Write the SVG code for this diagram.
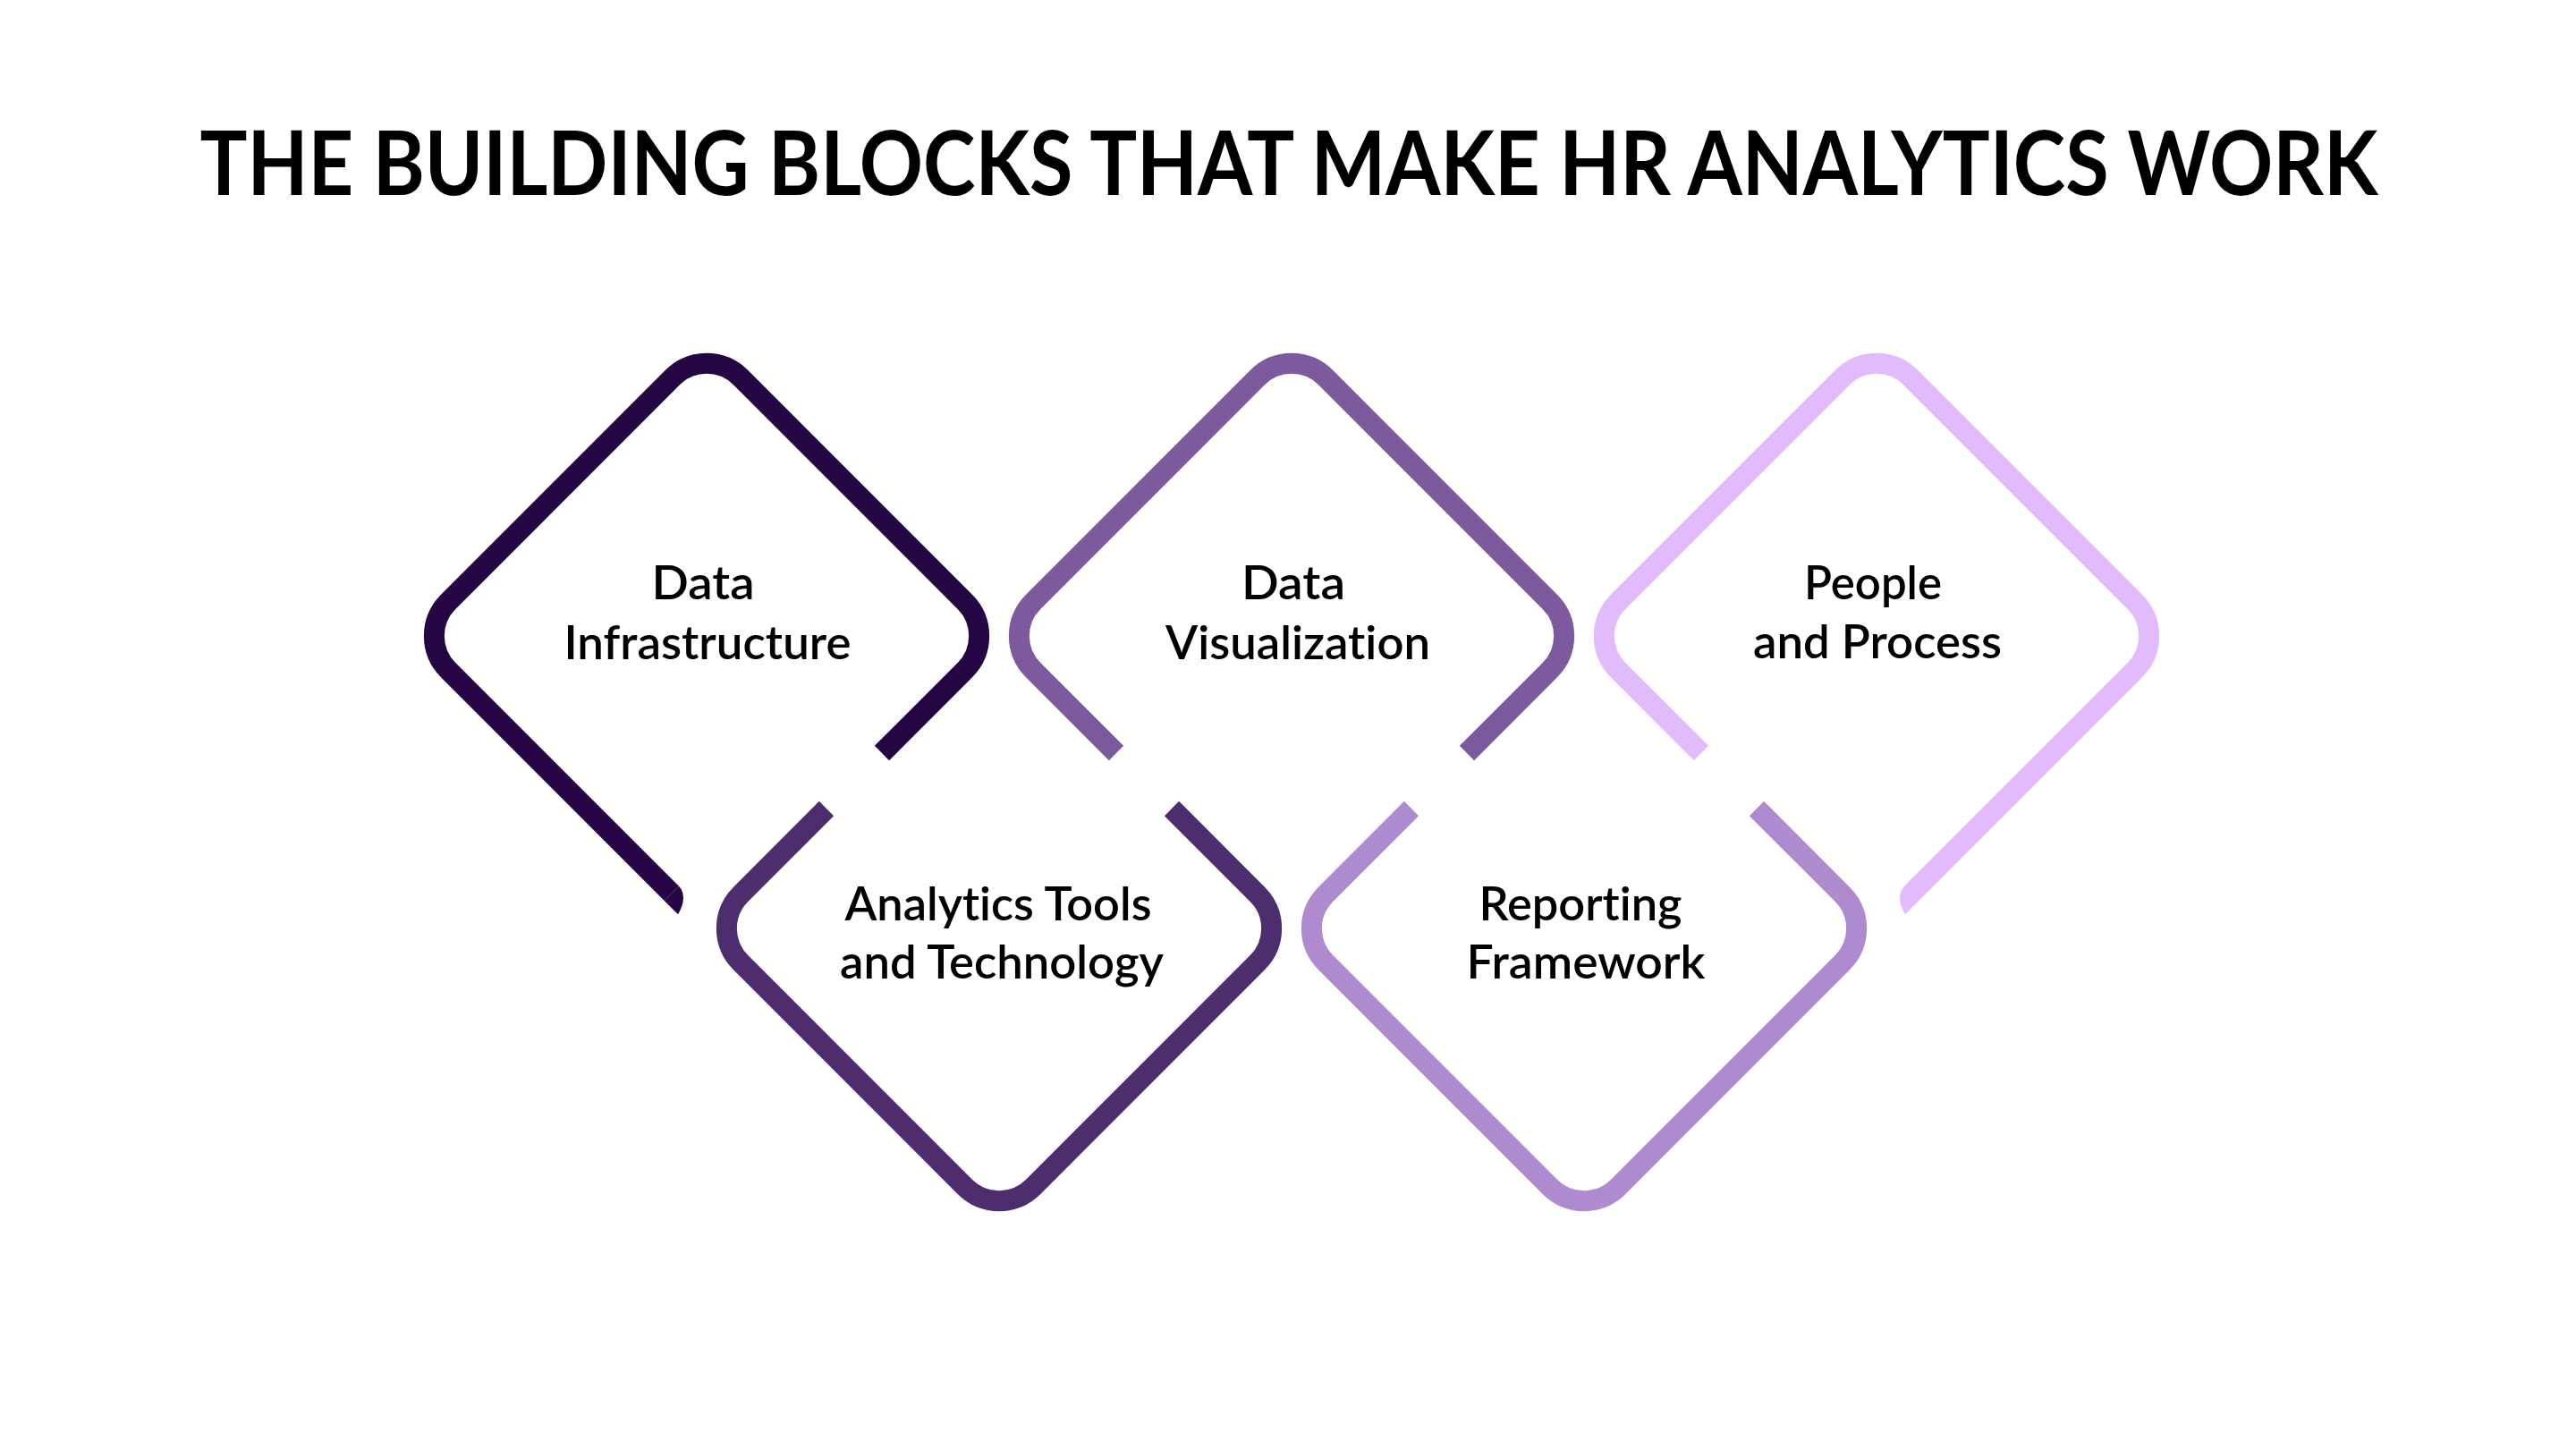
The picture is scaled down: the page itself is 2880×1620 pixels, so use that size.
<svg xmlns="http://www.w3.org/2000/svg" width="2880" height="1620" viewBox="0 0 2880 1620">
  <style>
    .ring { fill: none; stroke-width: 23; stroke-linecap: butt; stroke-linejoin: miter; }
    .lbl { font-family: "Lato", "Noto Sans", sans-serif; font-weight: 600; font-size: 51px; fill: #000000; text-anchor: middle; font-variant-ligatures: none; font-feature-settings: "liga" 0, "clig" 0; }
    .title { font-family: "Lato", "Noto Sans", sans-serif; font-weight: 700; font-size: 100px; fill: #000000; text-anchor: middle; font-variant-ligatures: none; }
    .c1 { stroke: #230643; } .f1 { fill: #230643; }
    .c2 { stroke: #4C2E6E; }
    .c3 { stroke: #7D5A9D; }
    .c4 { stroke: #AF8ACF; }
    .c5 { stroke: #E2BBFD; } .f5 { fill: #E2BBFD; }
  </style>
  <rect x="0" y="0" width="2880" height="1620" fill="#FFFFFF"/>
  <text class="title" x="1441" y="218" textLength="2435" lengthAdjust="spacingAndGlyphs">THE BUILDING BLOCKS THAT MAKE HR ANALYTICS WORK</text>

  <g id="connectors"></g>

  <g id="node-data-infrastructure">
    <g transform="translate(790,711)">
      <path class="ring c1" d="M196 131 L288.82 38.18 A54 54 0 0 0 288.82 -38.18 L38.18 -288.82 A54 54 0 0 0 -38.18 -288.82 L-288.82 -38.18 A54 54 0 0 0 -288.82 38.18 L-39.15 287.85"/>
      <path class="f1" d="M-31 279.7 Q-20.5 291.5 -32 311.3 L-47.3 296 Z"/>
    </g>
    <text class="lbl" x="786" y="670" textLength="115" lengthAdjust="spacingAndGlyphs">Data</text>
    <text class="lbl" x="791" y="737" textLength="321" lengthAdjust="spacingAndGlyphs">Infrastructure</text>
  </g>

  <g id="node-analytics-tools">
    <g transform="translate(1117,1038)">
      <path class="ring c2" d="M-193 -134 L-288.82 -38.18 A54 54 0 0 0 -288.82 38.18 L-38.18 288.82 A54 54 0 0 0 38.18 288.82 L288.82 38.18 A54 54 0 0 0 288.82 -38.18 L193 -134"/>
    </g>
    <text class="lbl" x="1116" y="1029" textLength="343" lengthAdjust="spacingAndGlyphs">Analytics Tools</text>
    <text class="lbl" x="1120" y="1094" textLength="362" lengthAdjust="spacingAndGlyphs">and Technology</text>
  </g>

  <g id="node-data-visualization">
    <g transform="translate(1444,711)">
      <path class="ring c3" d="M196 131 L288.82 38.18 A54 54 0 0 0 288.82 -38.18 L38.18 -288.82 A54 54 0 0 0 -38.18 -288.82 L-288.82 -38.18 A54 54 0 0 0 -288.82 38.18 L-196 131"/>
    </g>
    <text class="lbl" x="1446" y="670" textLength="116" lengthAdjust="spacingAndGlyphs">Data</text>
    <text class="lbl" x="1451" y="737" textLength="296" lengthAdjust="spacingAndGlyphs">Visualization</text>
  </g>

  <g id="node-reporting-framework">
    <g transform="translate(1771,1038)">
      <path class="ring c4" d="M-193 -134 L-288.82 -38.18 A54 54 0 0 0 -288.82 38.18 L-38.18 288.82 A54 54 0 0 0 38.18 288.82 L288.82 38.18 A54 54 0 0 0 288.82 -38.18 L193 -134"/>
    </g>
    <text class="lbl" x="1767" y="1029" textLength="227" lengthAdjust="spacingAndGlyphs">Reporting</text>
    <text class="lbl" x="1773" y="1094" textLength="267" lengthAdjust="spacingAndGlyphs">Framework</text>
  </g>

  <g id="node-people-process">
    <g transform="translate(2098,711)">
      <path class="ring c5" d="M-196 131 L-288.82 38.18 A54 54 0 0 1 -288.82 -38.18 L-38.18 -288.82 A54 54 0 0 1 38.18 -288.82 L288.82 -38.18 A54 54 0 0 1 288.82 38.18 L39.15 287.85"/>
      <path class="f5" d="M31 279.7 Q20.5 291.5 32 311.3 L47.3 296 Z"/>
    </g>
    <text class="lbl" x="2094" y="670" textLength="154" lengthAdjust="spacingAndGlyphs">People</text>
    <text class="lbl" x="2099" y="736" textLength="278" lengthAdjust="spacingAndGlyphs">and Process</text>
  </g>
</svg>
